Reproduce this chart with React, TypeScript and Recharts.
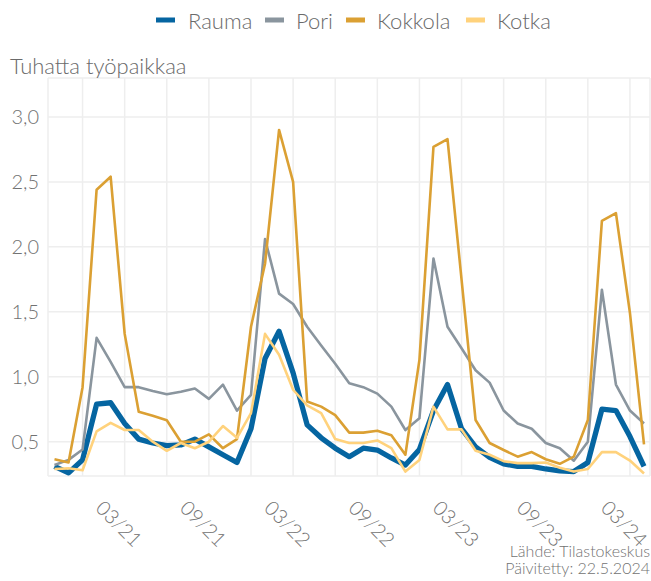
import React from 'react';
import { LineChart, Line, XAxis, YAxis, CartesianGrid } from 'recharts';

const months = [
  '10/20', '11/20', '12/20',
  '01/21', '02/21', '03/21', '04/21', '05/21', '06/21', '07/21', '08/21', '09/21', '10/21', '11/21', '12/21',
  '01/22', '02/22', '03/22', '04/22', '05/22', '06/22', '07/22', '08/22', '09/22', '10/22', '11/22', '12/22',
  '01/23', '02/23', '03/23', '04/23', '05/23', '06/23', '07/23', '08/23', '09/23', '10/23', '11/23', '12/23',
  '01/24', '02/24', '03/24', '04/24',
];

// tuhatta työpaikkaa
const rauma = [
  0.31, 0.26, 0.36, 0.79, 0.8, 0.64, 0.52, 0.49, 0.47, 0.475, 0.52, 0.46, 0.4, 0.34, 0.6,
  1.14, 1.35, 1.03, 0.63, 0.53, 0.45, 0.385, 0.45, 0.436, 0.375, 0.32, 0.44,
  0.74, 0.94, 0.6, 0.46, 0.38, 0.33, 0.31, 0.31, 0.29, 0.275, 0.27, 0.34,
  0.75, 0.74, 0.54, 0.31,
];
const pori = [
  0.32, 0.36, 0.44, 1.3, 1.115, 0.92, 0.92, 0.89, 0.865, 0.885, 0.91, 0.83, 0.94, 0.74, 0.86,
  2.06, 1.64, 1.56, 1.385, 1.24, 1.1, 0.95, 0.92, 0.87, 0.77, 0.59, 0.68,
  1.91, 1.385, 1.22, 1.05, 0.955, 0.74, 0.64, 0.6, 0.49, 0.45, 0.354, 0.5,
  1.67, 0.94, 0.74, 0.64,
];
const kokkola = [
  0.365, 0.34, 0.92, 2.44, 2.54, 1.33, 0.73, 0.7, 0.665, 0.5, 0.5, 0.557, 0.45, 0.52, 1.385,
  1.87, 2.9, 2.5, 0.81, 0.77, 0.705, 0.57, 0.57, 0.585, 0.55, 0.4, 1.13,
  2.77, 2.83, 1.75, 0.667, 0.49, 0.436, 0.385, 0.42, 0.365, 0.33, 0.385, 0.667,
  2.2, 2.26, 1.49, 0.48,
];
const kotka = [
  0.29, 0.295, 0.28, 0.58, 0.645, 0.59, 0.59, 0.5, 0.43, 0.49, 0.45, 0.5, 0.62, 0.53, 0.72,
  1.33, 1.17, 0.9, 0.78, 0.72, 0.52, 0.49, 0.49, 0.51, 0.45, 0.27, 0.36,
  0.77, 0.595, 0.595, 0.43, 0.4, 0.35, 0.335, 0.335, 0.34, 0.3, 0.27, 0.29,
  0.42, 0.42, 0.355, 0.255,
];

const gridTicks = [
  '12/20', '03/21', '06/21', '09/21', '12/21', '03/22', '06/22',
  '09/22', '12/22', '03/23', '06/23', '09/23', '12/23', '03/24',
];
const labelTicks = ['03/21', '09/21', '03/22', '09/22', '03/23', '09/23', '03/24'];
const yTicks = [0.5, 1, 1.5, 2, 2.5, 3];

const series = [
  { key: 'Rauma', values: rauma, color: '#0565a1', width: 5.3 },
  { key: 'Pori', values: pori, color: '#8a959e', width: 2.6 },
  { key: 'Kokkola', values: kokkola, color: '#dba033', width: 2.6 },
  { key: 'Kotka', values: kotka, color: '#ffd27c', width: 2.6 },
];

const data = months.map((m, i) => {
  const row: Record<string, string | number> = { month: m };
  series.forEach((s) => {
    row[s.key] = s.values[i];
  });
  return row;
});

const FONT = 'Lato, "Open Sans", sans-serif';
const GREY = '#727272';

const MonthTick = (props: any) => {
  const { x, y, payload } = props;
  if (!labelTicks.includes(payload.value)) return null;
  const cx = x - 5;
  const cy = y + 47;
  return (
    <text
      x={cx}
      y={cy}
      transform={`rotate(45, ${cx}, ${cy})`}
      textAnchor="middle"
      dominantBaseline="central"
      fontFamily={FONT}
      fontWeight={300}
      fontSize={20}
      fill={GREY}
    >
      {payload.value}
    </text>
  );
};

const legendPos = [
  { key: 156, text: 188 },
  { key: 265, text: 296 },
  { key: 346, text: 377 },
  { key: 466, text: 497 },
];

export default function App() {
  return (
    <div style={{ position: 'absolute', left: 0, top: 0, width: 651, height: 581, background: '#fff' }}>
      <LineChart
        width={651}
        height={581}
        data={data}
        margin={{ top: 78, right: 1, bottom: 0, left: 0 }}
      >
        <CartesianGrid stroke="#eeeeee" strokeWidth={1.5} />
        <XAxis
          dataKey="month"
          ticks={gridTicks}
          interval={0}
          tick={<MonthTick />}
          tickLine={false}
          axisLine={false}
          tickSize={0}
          tickMargin={0}
          height={105}
          padding={{ left: 6.5, right: 6 }}
        />
        <YAxis
          type="number"
          domain={[0.236, 3.3]}
          ticks={yTicks}
          allowDataOverflow
          width={48}
          tickLine={false}
          axisLine={false}
          tickSize={0}
          tickMargin={9}
          tickFormatter={(v: number) => v.toFixed(1).replace('.', ',')}
          tick={{ fontFamily: FONT, fontWeight: 300, fontSize: 20, fill: GREY }}
        />
        {series.map((s) => (
          <Line
            key={s.key}
            type="linear"
            dataKey={s.key}
            stroke={s.color}
            strokeWidth={s.width}
            strokeLinejoin="round"
            dot={false}
            activeDot={false}
            isAnimationActive={false}
          />
        ))}
      </LineChart>
      <svg
        width={651}
        height={581}
        style={{ position: 'absolute', left: 0, top: 0, pointerEvents: 'none' }}
        fontFamily={FONT}
        fontWeight={300}
      >
        {series.map((s, i) => (
          <g key={s.key}>
            <rect x={legendPos[i].key} y={17.5} width={19} height={5} fill={s.color} />
            <text x={legendPos[i].text} y={28.5} fontSize={22} fill="#6a6a6a">
              {s.key}
            </text>
          </g>
        ))}
        <text x={10} y={74} fontSize={22} fill="#6a6a6a">
          Tuhatta työpaikkaa
        </text>
        <text x={650} y={556.5} fontSize={16} fill={GREY} textAnchor="end">
          Lähde: Tilastokeskus
        </text>
        <text x={650} y={574} fontSize={16} fill={GREY} textAnchor="end">
          Päivitetty: 22.5.2024
        </text>
      </svg>
    </div>
  );
}
